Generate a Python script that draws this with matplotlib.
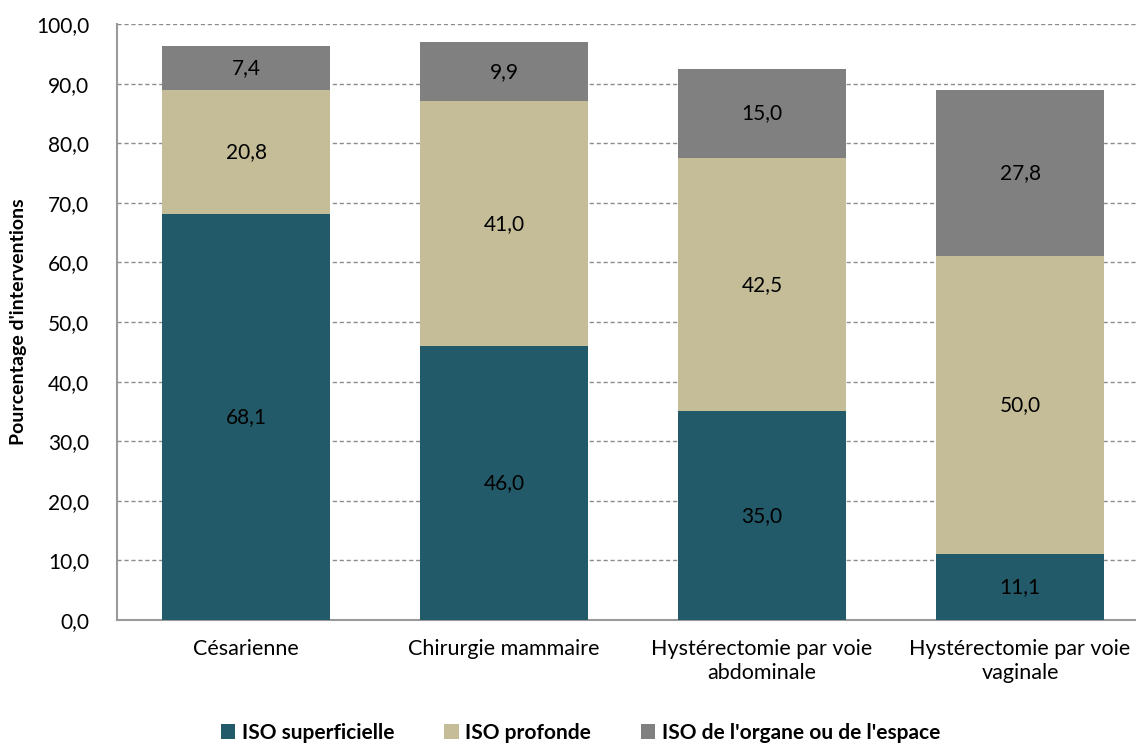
import matplotlib
matplotlib.use("Agg")
import matplotlib.pyplot as plt
import numpy as np

categories = ["Césarienne", "Chirurgie mammaire",
              "Hystérectomie par voie\nabdominale", "Hystérectomie par voie\nvaginale"]
series = ["ISO superficielle", "ISO profonde", "ISO de l'organe ou de l'espace"]
superficielle = [68.1, 46.0, 35.0, 11.1]
profonde = [20.8, 41.0, 42.5, 50.0]
organe = [7.4, 9.9, 15.0, 27.8]
colors = ["#235A69", "#C4BD97", "#808080"]

plt.rcParams["font.family"] = ["Lato", "DejaVu Sans"]

fig = plt.figure(figsize=(11.36, 7.45), dpi=100)
ax = fig.add_axes([117 / 1136, 1 - 620 / 745, 1 - 117 / 1136, 596 / 745])

x = np.arange(len(categories))
w = 0.65
bottom = np.zeros(len(categories))
for vals, col, lab in zip([superficielle, profonde, organe], colors, series):
    ax.bar(x, vals, w, bottom=bottom, color=col, label=lab, zorder=3)
    for xi, b, v in zip(x, bottom, vals):
        ax.text(xi, b + v / 2, f"{v:.1f}".replace(".", ","), ha="center", va="center",
                fontsize=15, color="black", zorder=4)
    bottom += np.array(vals)

ax.set_xlim(-0.5, -0.5 + 1019 / 258)
ax.set_ylim(0, 100)
ax.set_yticks(np.arange(0, 101, 10))
ax.set_yticklabels([f"{v:.1f}".replace(".", ",") for v in np.arange(0, 101, 10)], fontsize=15)
ax.set_xticks(x)
ax.set_xticklabels(categories, fontsize=15.5)
ax.tick_params(axis="y", length=0, pad=20)
ax.tick_params(axis="x", length=0, pad=14)
ax.yaxis.grid(True, linestyle=(0, (3, 2)), color="#8C8C8C", lw=1, zorder=0)
for s in ["top", "right"]:
    ax.spines[s].set_visible(False)
for s in ["left", "bottom"]:
    ax.spines[s].set_color("#9A9A9A")
    ax.spines[s].set_linewidth(1.5)
ax.set_ylabel("Pourcentage d'interventions", fontsize=14, fontweight="bold")
ax.yaxis.set_label_coords(-0.088, 0.5)

fig.legend(loc="center", bbox_to_anchor=(0.511, 1 - 733 / 745), ncol=3, frameon=False,
           prop={"size": 15, "weight": "bold"}, handlelength=0.7, handleheight=0.7,
           handletextpad=0.3, columnspacing=2.4)

fig.savefig("out.png", dpi=100)
